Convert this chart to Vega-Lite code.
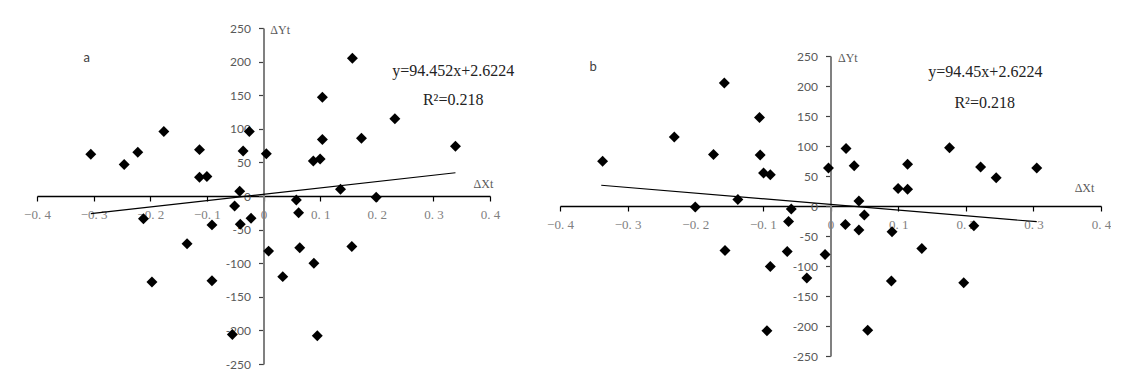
{
  "$schema": "https://vega.github.io/schema/vega-lite/v6.json",
  "autosize": {"type": "pad"},
  "padding": {"left": 23, "top": 22, "right": 0, "bottom": 0},
  "background": "white",
  "config": {"view": {"stroke": null}, "axis": {"labelOverlap": false}},
  "spacing": 70,
  "bounds": "flush",
  "datasets": {
    "a": [
      {"x": -0.305, "y": 62}, {"x": -0.246, "y": 47}, {"x": -0.222, "y": 65}, {"x": -0.176, "y": 96},
      {"x": -0.113, "y": 69}, {"x": -0.113, "y": 28}, {"x": -0.100, "y": 29}, {"x": -0.036, "y": 67},
      {"x": -0.025, "y": 96}, {"x": 0.005, "y": 63}, {"x": -0.042, "y": 7}, {"x": -0.051, "y": -15},
      {"x": -0.212, "y": -34}, {"x": -0.091, "y": -43}, {"x": -0.041, "y": -42}, {"x": -0.022, "y": -33},
      {"x": -0.135, "y": -71}, {"x": 0.009, "y": -82}, {"x": -0.197, "y": -128}, {"x": -0.091, "y": -126},
      {"x": -0.055, "y": -206}, {"x": 0.034, "y": -120}, {"x": 0.157, "y": 205}, {"x": 0.104, "y": 147},
      {"x": 0.232, "y": 115}, {"x": 0.104, "y": 84}, {"x": 0.173, "y": 86}, {"x": 0.339, "y": 74},
      {"x": 0.088, "y": 52}, {"x": 0.100, "y": 55}, {"x": 0.136, "y": 10}, {"x": 0.199, "y": -2},
      {"x": 0.058, "y": -6}, {"x": 0.062, "y": -25}, {"x": 0.064, "y": -77}, {"x": 0.156, "y": -75},
      {"x": 0.089, "y": -100}, {"x": 0.095, "y": -208}
    ],
    "b": [
      {"x": 0.305, "y": 63.5}, {"x": 0.245, "y": 47}, {"x": 0.222, "y": 65}, {"x": 0.176, "y": 97},
      {"x": 0.114, "y": 69.7}, {"x": 0.114, "y": 28}, {"x": 0.100, "y": 29}, {"x": 0.035, "y": 67},
      {"x": 0.023, "y": 96}, {"x": -0.003, "y": 63.5}, {"x": 0.042, "y": 8.5}, {"x": 0.050, "y": -15},
      {"x": 0.212, "y": -33}, {"x": 0.091, "y": -43}, {"x": 0.042, "y": -40}, {"x": 0.022, "y": -31},
      {"x": 0.135, "y": -71}, {"x": -0.008, "y": -81}, {"x": 0.197, "y": -128}, {"x": 0.090, "y": -125},
      {"x": 0.055, "y": -207}, {"x": -0.035, "y": -120}, {"x": -0.157, "y": 205}, {"x": -0.105, "y": 147.5},
      {"x": -0.231, "y": 115}, {"x": -0.104, "y": 85}, {"x": -0.173, "y": 86}, {"x": -0.337, "y": 74.7},
      {"x": -0.089, "y": 52}, {"x": -0.099, "y": 55}, {"x": -0.137, "y": 11}, {"x": -0.200, "y": -1.5},
      {"x": -0.058, "y": -5}, {"x": -0.062, "y": -26}, {"x": -0.064, "y": -76}, {"x": -0.156, "y": -74},
      {"x": -0.089, "y": -101}, {"x": -0.094, "y": -208}
    ],
    "lineA": [{"x": -0.305, "y": -26.2}, {"x": 0.339, "y": 34.6}],
    "lineB": [{"x": -0.339, "y": 34.6}, {"x": 0.305, "y": -26.2}]
  },
  "hconcat": [
    {
      "width": 453,
      "height": 336,
      "layer": [
        {
          "data": {"name": "a"},
          "mark": {"type": "point", "shape": "diamond", "filled": true, "color": "black", "size": 120, "opacity": 1},
          "encoding": {
            "x": {"field": "x", "type": "quantitative",
              "scale": {"domain": [-0.4, 0.4], "nice": false, "zero": false},
              "axis": {"title": null, "orient": "bottom", "offset": -168, "values": [-0.4, -0.3, -0.2, -0.1, 0, 0.1, 0.2, 0.3, 0.4], "tickCount": 20,
                "grid": false, "domainColor": "black", "domainWidth": 1.5, "tickColor": "black", "tickSize": 5, "tickWidth": 1.2,
                "labelFlush": false, "labelOverlap": false, "labelFont": "Liberation Serif", "labelFontSize": 13, "labelColor": "#808080", "labelPadding": 7,
                "labelExpr": "datum.value == 0 ? '0' : replace(format(datum.value, '.1f'), '.', '. ')"}},
            "y": {"field": "y", "type": "quantitative",
              "scale": {"domain": [-250, 250], "nice": false, "zero": false},
              "axis": {"title": null, "orient": "left", "offset": -226.5, "values": [-250, -200, -150, -100, -50, 0, 50, 100, 150, 200, 250], "tickCount": 20,
                "grid": false, "domainColor": "#808080", "domainWidth": 2, "tickColor": "#404040", "tickSize": 5, "tickWidth": 1.2,
                "labelOverlap": false, "labelFont": "Lato", "labelFontSize": 12, "labelColor": "#595959", "labelPadding": 8,
                "labelExpr": "datum.value < 0 ? '-' + abs(datum.value) : '' + datum.value"}}
          }
        },
        {
          "data": {"name": "lineA"},
          "mark": {"type": "line", "color": "black", "strokeWidth": 1.2},
          "encoding": {"x": {"field": "x", "type": "quantitative"}, "y": {"field": "y", "type": "quantitative"}}
        },
        {
          "data": {"values": [{}]},
          "mark": {"type": "text", "text": "a", "font": "Lato", "fontSize": 13, "color": "#404040", "align": "center", "baseline": "middle"},
          "encoding": {"x": {"datum": -0.312, "type": "quantitative"}, "y": {"datum": 205, "type": "quantitative"}}
        },
        {
          "data": {"values": [{}]},
          "mark": {"type": "text", "text": "ΔYt", "font": "Liberation Serif", "fontSize": 12, "color": "#595959", "align": "left", "baseline": "middle"},
          "encoding": {"x": {"datum": 0.012, "type": "quantitative"}, "y": {"datum": 247, "type": "quantitative"}}
        },
        {
          "data": {"values": [{}]},
          "mark": {"type": "text", "text": "ΔXt", "font": "Liberation Serif", "fontSize": 12, "color": "#595959", "align": "left", "baseline": "middle"},
          "encoding": {"x": {"datum": 0.371, "type": "quantitative"}, "y": {"datum": 18.5, "type": "quantitative"}}
        },
        {
          "data": {"values": [{}]},
          "mark": {"type": "text", "text": "y=94.452x+2.6224", "font": "Liberation Serif", "fontSize": 16, "color": "#222222", "align": "center", "baseline": "middle"},
          "encoding": {"x": {"datum": 0.335, "type": "quantitative"}, "y": {"datum": 185.7, "type": "quantitative"}}
        },
        {
          "data": {"values": [{}]},
          "mark": {"type": "text", "text": "R²=0.218", "font": "Liberation Serif", "fontSize": 16, "color": "#222222", "align": "center", "baseline": "middle"},
          "encoding": {"x": {"datum": 0.335, "type": "quantitative"}, "y": {"datum": 142.5, "type": "quantitative"}}
        }
      ]
    },
    {
      "width": 541,
      "height": 328,
      "layer": [
        {
          "data": {"name": "b"},
          "mark": {"type": "point", "shape": "diamond", "filled": true, "color": "black", "size": 120, "opacity": 1},
          "encoding": {
            "x": {"field": "x", "type": "quantitative",
              "scale": {"domain": [-0.4, 0.4], "nice": false, "zero": false},
              "axis": {"title": null, "orient": "bottom", "offset": -150, "values": [-0.4, -0.3, -0.2, -0.1, 0, 0.1, 0.2, 0.3, 0.4], "tickCount": 20,
                "grid": false, "domainColor": "black", "domainWidth": 1.5, "tickColor": "black", "tickSize": 5, "tickWidth": 1.2,
                "labelFlush": false, "labelOverlap": false, "labelFont": "Liberation Serif", "labelFontSize": 13, "labelColor": "#808080", "labelPadding": 7,
                "labelExpr": "datum.value == 0 ? '0' : replace(format(datum.value, '.1f'), '.', '. ')"}},
            "y": {"field": "y", "type": "quantitative",
              "scale": {"domain": [-250, 250], "range": [328, 28], "nice": false, "zero": false},
              "axis": {"title": null, "orient": "left", "offset": -270.5, "values": [-250, -200, -150, -100, -50, 0, 50, 100, 150, 200, 250], "tickCount": 20,
                "grid": false, "domainColor": "#808080", "domainWidth": 2, "tickColor": "#404040", "tickSize": 5, "tickWidth": 1.2,
                "labelOverlap": false, "labelFont": "Lato", "labelFontSize": 12, "labelColor": "#595959", "labelPadding": 8,
                "labelExpr": "datum.value < 0 ? '-' + abs(datum.value) : '' + datum.value"}}
          }
        },
        {
          "data": {"name": "lineB"},
          "mark": {"type": "line", "color": "black", "strokeWidth": 1.2},
          "encoding": {"x": {"field": "x", "type": "quantitative"}, "y": {"field": "y", "type": "quantitative"}}
        },
        {
          "data": {"values": [{}]},
          "mark": {"type": "text", "text": "b", "font": "Lato", "fontSize": 13, "color": "#404040", "align": "center", "baseline": "middle"},
          "encoding": {"x": {"datum": -0.351, "type": "quantitative"}, "y": {"datum": 231, "type": "quantitative"}}
        },
        {
          "data": {"values": [{}]},
          "mark": {"type": "text", "text": "ΔYt", "font": "Liberation Serif", "fontSize": 12, "color": "#595959", "align": "left", "baseline": "middle"},
          "encoding": {"x": {"datum": 0.011, "type": "quantitative"}, "y": {"datum": 246, "type": "quantitative"}}
        },
        {
          "data": {"values": [{}]},
          "mark": {"type": "text", "text": "ΔXt", "font": "Liberation Serif", "fontSize": 12, "color": "#595959", "align": "left", "baseline": "middle"},
          "encoding": {"x": {"datum": 0.361, "type": "quantitative"}, "y": {"datum": 29.5, "type": "quantitative"}}
        },
        {
          "data": {"values": [{}]},
          "mark": {"type": "text", "text": "y=94.45x+2.6224", "font": "Liberation Serif", "fontSize": 16, "color": "#222222", "align": "center", "baseline": "middle"},
          "encoding": {"x": {"datum": 0.229, "type": "quantitative"}, "y": {"datum": 223, "type": "quantitative"}}
        },
        {
          "data": {"values": [{}]},
          "mark": {"type": "text", "text": "R²=0.218", "font": "Liberation Serif", "fontSize": 16, "color": "#222222", "align": "center", "baseline": "middle"},
          "encoding": {"x": {"datum": 0.228, "type": "quantitative"}, "y": {"datum": 171.7, "type": "quantitative"}}
        }
      ]
    }
  ]
}
